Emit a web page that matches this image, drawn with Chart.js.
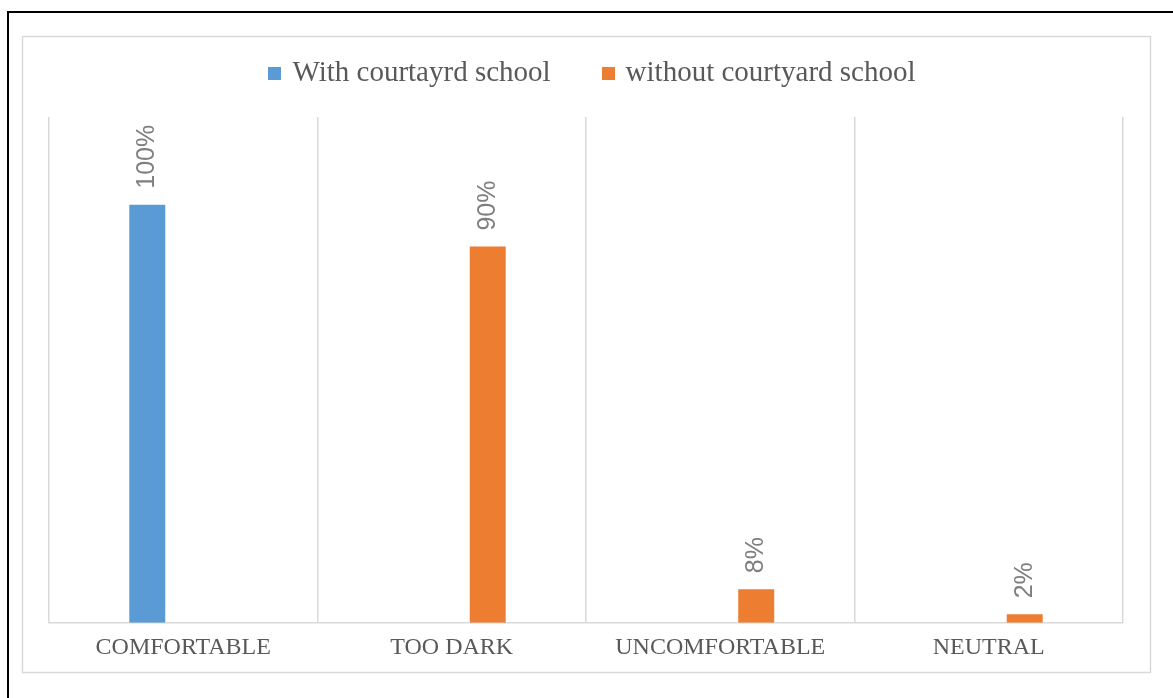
<!DOCTYPE html>
<html>
<head>
<meta charset="utf-8">
<script src="https://cdn.jsdelivr.net/npm/chart.js@4"></script>
<style>
html,body{margin:0;padding:0;background:#fff;}
canvas{display:block;}
</style>
</head>
<body>
<canvas id="c" width="1173" height="698"></canvas>
<script>
const categories = ['COMFORTABLE', 'TOO DARK', 'UNCOMFORTABLE', 'NEUTRAL'];
const withCourtyard = [100, null, null, null];
const withoutCourtyard = [null, 90, 8, 2];
const seriesNames = ['With courtayrd school', 'without courtyard school'];
const seriesColors = ['#5b9bd5', '#ed7d31'];

function square(color) {
  const c = document.createElement('canvas');
  c.width = 13; c.height = 13;
  const g = c.getContext('2d');
  g.fillStyle = color;
  g.fillRect(0, 0, 13, 13);
  return c;
}

const frame = {
  id: 'frame',
  beforeDraw(chart) {
    const ctx = chart.ctx;
    ctx.save();
    ctx.fillStyle = '#fff';
    ctx.fillRect(0, 0, chart.width, chart.height);
    ctx.strokeStyle = '#d9d9d9';
    ctx.lineWidth = 1.5;
    ctx.strokeRect(22.5, 36.5, 1128, 636);
    ctx.strokeStyle = '#000';
    ctx.lineWidth = 2;
    ctx.beginPath();
    ctx.moveTo(8, 698);
    ctx.lineTo(8, 12);
    ctx.lineTo(1173, 12);
    ctx.stroke();
    ctx.restore();
  }
};

const legendFit = {
  id: 'legendFit',
  beforeInit(chart) {
    const orig = chart.legend.fit;
    chart.legend.fit = function () {
      orig.bind(chart.legend)();
      this.height = 115;
    };
  },
  afterLayout(chart) {
    chart.legend.left += 7.75;
    chart.legend.right += 7.75;
    chart.legend.top += 2.5;
    chart.legend.bottom += 2.5;
  }
};

const valueLabels = {
  id: 'valueLabels',
  afterDatasetsDraw(chart) {
    const ctx = chart.ctx;
    ctx.save();
    ctx.font = '25px "Liberation Sans", Arial, sans-serif';
    ctx.fillStyle = '#7f7f7f';
    ctx.textAlign = 'left';
    ctx.textBaseline = 'middle';
    chart.data.datasets.forEach((ds, di) => {
      const meta = chart.getDatasetMeta(di);
      meta.data.forEach((bar, i) => {
        const v = ds.data[i];
        if (v === null || v === undefined) return;
        ctx.save();
        ctx.translate(bar.x, bar.y - 16);
        ctx.rotate(-Math.PI / 2);
        ctx.fillText(v + '%', 0, 0);
        ctx.restore();
      });
    });
    ctx.restore();
  }
};

new Chart(document.getElementById('c'), {
  type: 'bar',
  data: {
    labels: categories,
    datasets: [
      { label: seriesNames[0], data: withCourtyard, backgroundColor: seriesColors[0], pointStyle: square(seriesColors[0]), categoryPercentage: 0.536, barPercentage: 0.5 },
      { label: seriesNames[1], data: withoutCourtyard, backgroundColor: seriesColors[1], pointStyle: square(seriesColors[1]), categoryPercentage: 0.536, barPercentage: 0.5 }
    ]
  },
  options: {
    responsive: false,
    devicePixelRatio: 1,
    animation: false,
    layout: { padding: { left: 49, right: 50, top: 2, bottom: 24.5 } },
    plugins: {
      legend: {
        display: true,
        position: 'top',
        labels: {
          usePointStyle: true,
          pointStyleWidth: 6,
          padding: 54.5,
          color: '#595959',
          font: { family: '"Liberation Serif", "Times New Roman", serif', size: 29 }
        }
      },
      tooltip: { enabled: false },
      title: { display: false }
    },
    scales: {
      x: {
        grid: { offset: true, color: '#d9d9d9', drawTicks: false, lineWidth: 1.5 },
        border: { color: '#d9d9d9', width: 1.5 },
        ticks: {
          color: '#595959',
          padding: 11,
          font: { family: '"Liberation Serif", "Times New Roman", serif', size: 24 }
        }
      },
      y: {
        display: false,
        min: 0,
        max: 121
      }
    }
  },
  plugins: [frame, legendFit, valueLabels]
});
</script>
</body>
</html>
